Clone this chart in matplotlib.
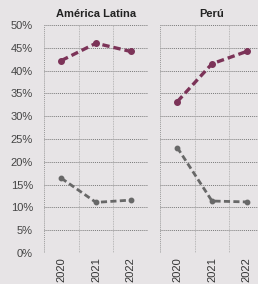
import numpy as np
import matplotlib.pyplot as plt

years = ['2020', '2021', '2022']
panels = ['América Latina', 'Perú']
upper = {'América Latina': [42.2, 46.0, 44.2], 'Perú': [33.2, 41.5, 44.2]}
lower = {'América Latina': [16.4, 11.1, 11.6], 'Perú': [23.1, 11.4, 11.2]}
yticks = [0, 5, 10, 15, 20, 25, 30, 35, 40, 45, 50]

bg = '#e7e4e6'
col_up = '#7c3358'
col_low = '#686868'

plt.rcParams['font.family'] = ['Liberation Sans', 'DejaVu Sans']

W, H = 258, 284
fig = plt.figure(figsize=(W / 100, H / 100), dpi=100, facecolor=bg)

# left, top, right, bottom in pixels
boxes = [(44, 25, 148, 253), (160, 25, 264, 253)]

x = np.arange(len(years))
for i, (name, (l, t, r, b)) in enumerate(zip(panels, boxes)):
    ax = fig.add_axes([l / W, 1 - b / H, (r - l) / W, (b - t) / H])
    ax.set_facecolor(bg)
    ax.set_xlim(-0.5, 2.5)
    ax.set_ylim(0, 50)
    for yv in yticks:
        ax.axhline(yv, color='#7a7a7a', lw=0.7, ls=(0, (1, 1)), zorder=1)
    for xv in [0.5, 1.5]:
        ax.axvline(xv, color='#aaaaaa', lw=0.6, ls=(0, (1, 1)), zorder=1)
    for s in ax.spines.values():
        s.set_visible(False)
    ax.axvline(-0.5, color='#999999', lw=0.7, ls=(0, (1, 1)))
    ax.axvline(2.5, color='#999999', lw=0.7, ls=(0, (1, 1)))

    ax.plot(x, upper[name], color=col_up, lw=2.4, ls=(0, (2.2, 1.2)),
            marker='o', ms=4, zorder=3)
    ax.plot(x, lower[name], color=col_low, lw=2.0, ls=(0, (2.2, 1.2)),
            marker='o', ms=3.2, zorder=3)

    ax.set_xticks(x)
    ax.set_xticklabels(years, rotation=90, fontsize=8, color='#333333')
    ax.tick_params(axis='x', length=0, pad=3)
    ax.set_yticks(yticks)
    if i == 0:
        ax.set_yticklabels([f'{v}%' for v in yticks], fontsize=8, color='#444444')
        ax.tick_params(axis='y', length=0, pad=8)
    else:
        ax.tick_params(axis='y', length=0, labelleft=False)
    ax.set_title(name, fontsize=8, fontweight='bold', color='#222222', pad=6)

fig.savefig('out.png', dpi=100, facecolor=bg)
